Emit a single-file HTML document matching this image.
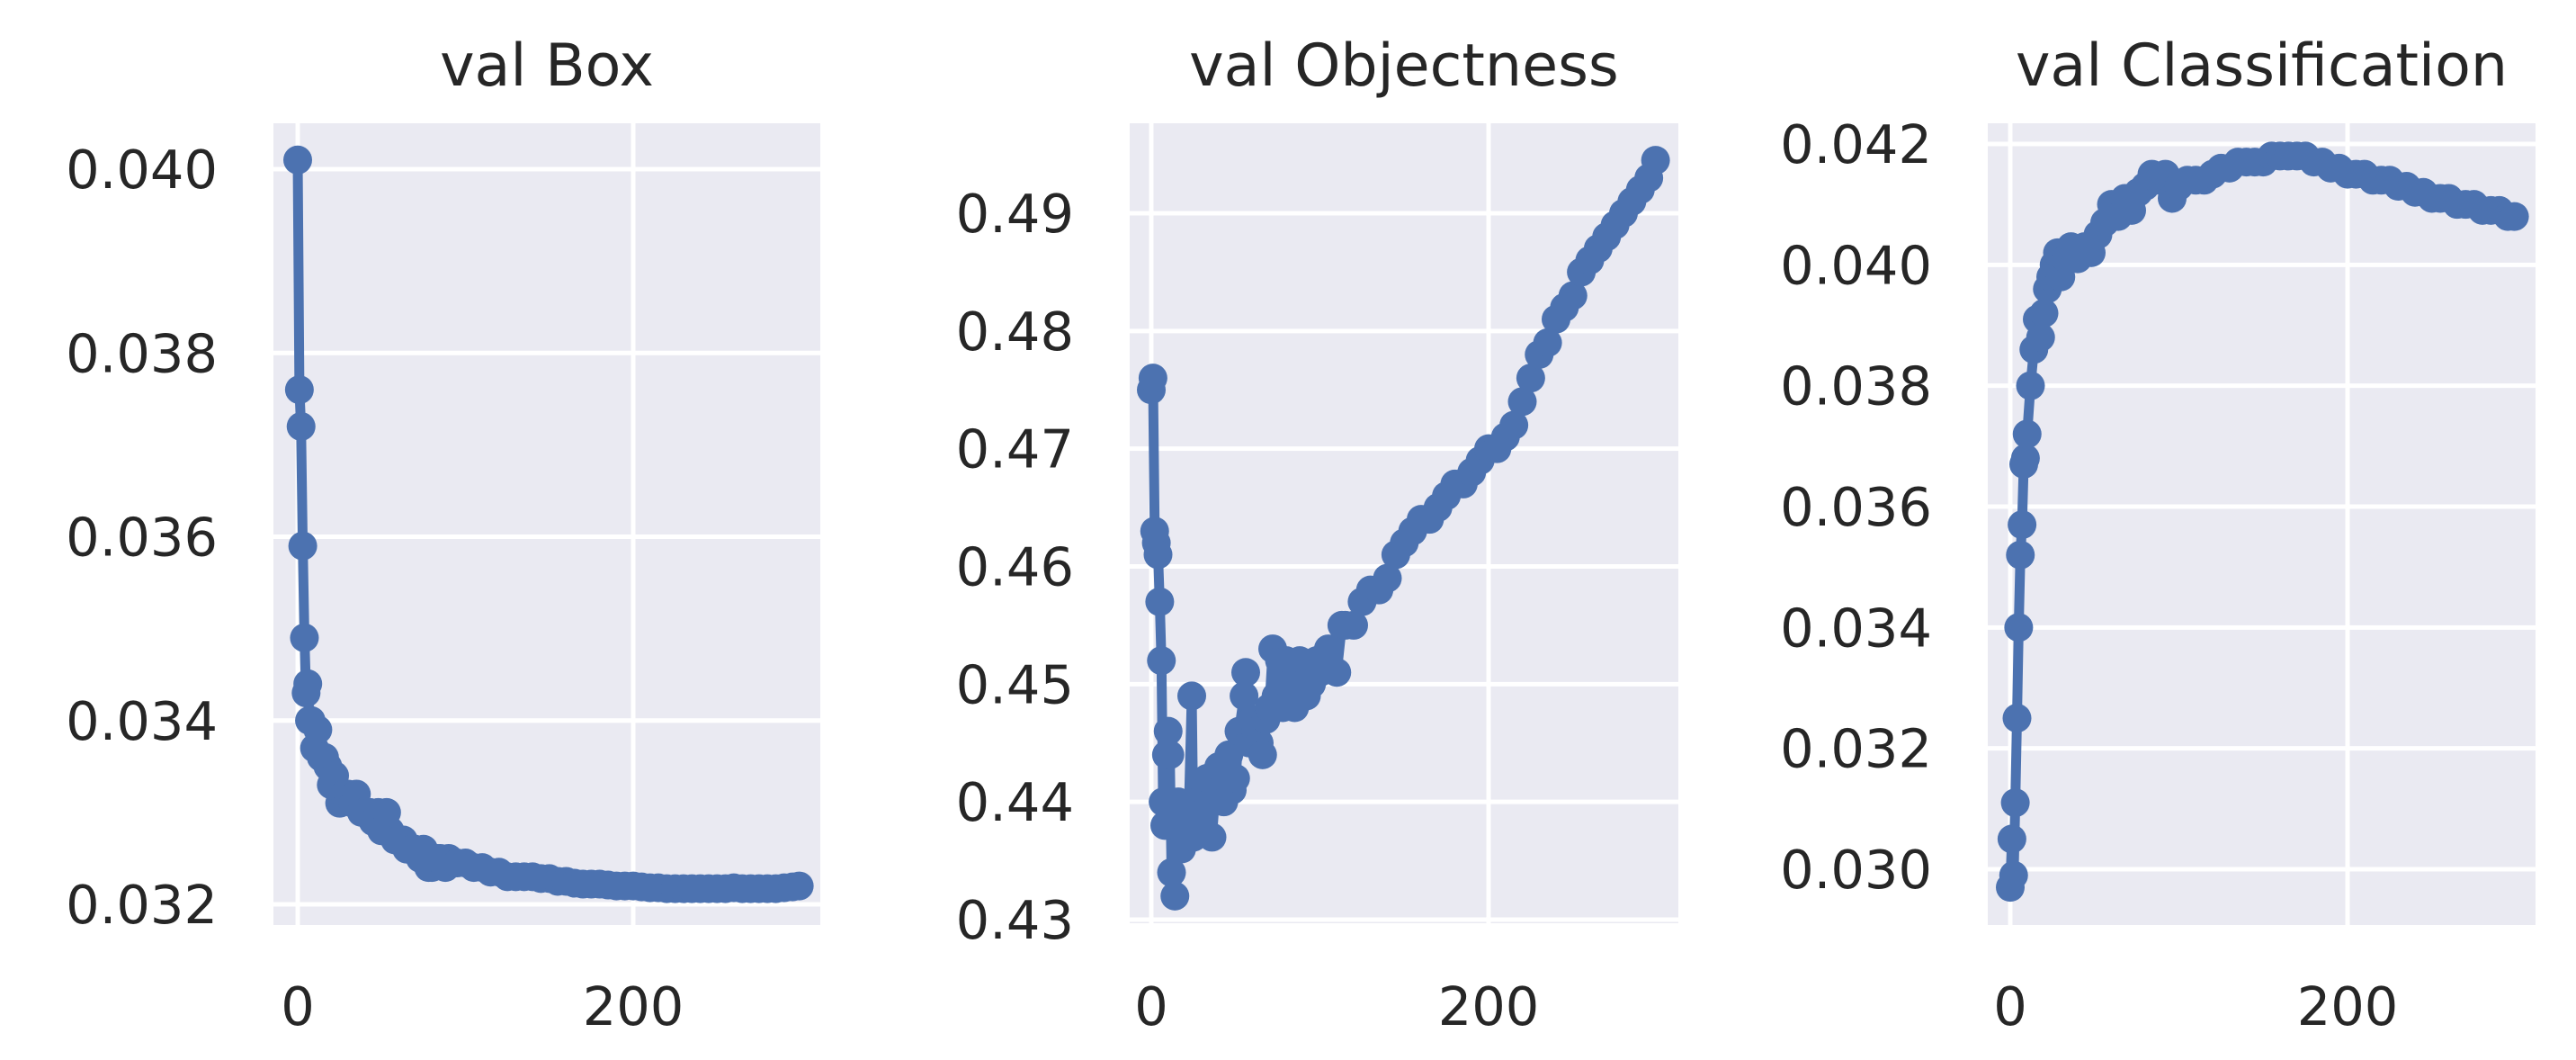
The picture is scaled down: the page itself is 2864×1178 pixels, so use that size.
<!DOCTYPE html>
<html><head><meta charset="utf-8">
<style>
html,body{margin:0;padding:0;background:#fff;}
svg{display:block;font-family:"DejaVu Sans","Liberation Sans",sans-serif;}
</style></head>
<body>
<svg id="fig" width="2864" height="1178" viewBox="0 0 2864 1178" xmlns="http://www.w3.org/2000/svg"></svg>
<script>
// ---- data ----
const boxEpochs=[0,1,2,3,4,5,6,7,8,10,12,14,16,18,20,22,25,28,30,33,35,38,40,43,45,48,50,53,55,58,60,63,65,68,70,73,75,78,80,83,85,88,90,95,100,105,110,115,120,125,130,135,140,145,150,155,160,165,170,175,180,185,190,195,200,205,210,215,220,225,230,235,240,245,250,255,260,265,270,275,280,285,290,295,299];
const boxValues=[0.0401,0.0376,0.0372,0.0359,0.0349,0.0343,0.0344,0.0340,0.0340,0.0337,0.0339,0.0336,0.0336,0.0335,0.0333,0.0334,0.0331,0.0332,0.0332,0.0331,0.0332,0.0330,0.0330,0.0330,0.0329,0.0330,0.0328,0.0330,0.0328,0.0327,0.0327,0.0327,0.0326,0.0326,0.0326,0.0325,0.0326,0.0324,0.0324,0.0325,0.0325,0.0324,0.0325,0.03245,0.03245,0.0324,0.0324,0.03235,0.03235,0.0323,0.0323,0.0323,0.0323,0.03228,0.03228,0.03225,0.03225,0.03223,0.03222,0.03222,0.03222,0.03221,0.0322,0.0322,0.0322,0.03219,0.03218,0.03218,0.03217,0.03217,0.03217,0.03217,0.03217,0.03217,0.03217,0.03217,0.03218,0.03217,0.03217,0.03217,0.03217,0.03217,0.03218,0.03219,0.0322];
const objEpochs=[0,1,2,3,4,5,6,7,8,9,10,11,12,13,14,15,16,18,20,22,24,25,27,30,33,36,38,40,43,46,48,50,52,55,56,58,60,62,64,66,68,70,72,74,76,78,80,82,85,88,90,92,95,98,100,105,110,113,115,120,125,130,135,140,145,150,155,160,165,170,175,180,185,190,195,200,205,210,215,220,225,230,235,240,245,250,255,260,265,270,275,280,285,290,295,299];
const objValues=[0.475,0.476,0.463,0.462,0.461,0.457,0.452,0.440,0.438,0.444,0.446,0.444,0.434,0.438,0.432,0.438,0.440,0.436,0.437,0.438,0.449,0.437,0.440,0.439,0.442,0.437,0.441,0.443,0.440,0.444,0.441,0.442,0.446,0.449,0.451,0.445,0.447,0.446,0.445,0.444,0.447,0.448,0.453,0.449,0.452,0.448,0.452,0.450,0.448,0.452,0.450,0.449,0.450,0.452,0.451,0.453,0.451,0.455,0.455,0.455,0.457,0.458,0.458,0.459,0.461,0.462,0.463,0.464,0.464,0.465,0.466,0.467,0.467,0.468,0.469,0.470,0.470,0.471,0.472,0.474,0.476,0.478,0.479,0.481,0.482,0.483,0.485,0.486,0.487,0.488,0.489,0.490,0.491,0.492,0.493,0.4945];
const clsEpochs=[0,1,2,3,4,5,6,7,8,9,10,12,14,16,18,20,22,24,26,28,30,33,36,40,44,48,52,56,60,64,68,72,76,80,84,88,92,96,100,105,110,115,120,125,130,135,140,145,150,155,160,165,170,175,180,185,190,195,200,205,210,215,220,225,230,235,240,245,250,255,260,265,270,275,280,285,290,295,299];
const clsValues=[0.0297,0.0305,0.0299,0.0311,0.0325,0.0340,0.0352,0.0357,0.0367,0.0368,0.0372,0.0380,0.0386,0.0391,0.0388,0.0392,0.0396,0.0398,0.0400,0.0402,0.0398,0.0401,0.0403,0.0401,0.0403,0.0402,0.0405,0.0407,0.0410,0.0408,0.0411,0.0409,0.0412,0.0413,0.0415,0.0414,0.0415,0.0411,0.0413,0.0414,0.0414,0.0414,0.0415,0.0416,0.0416,0.0417,0.0417,0.0417,0.0417,0.0418,0.0418,0.0418,0.0418,0.0418,0.0417,0.0417,0.0416,0.0416,0.0415,0.0415,0.0415,0.0414,0.0414,0.0414,0.0413,0.0413,0.0412,0.0412,0.0411,0.0411,0.0411,0.0410,0.0410,0.0410,0.0409,0.0409,0.0409,0.0408,0.0408];
const boxTicks=[0.032,0.034,0.036,0.038,0.040];
const boxTickLabels=["0.032","0.034","0.036","0.038","0.040"];
const objTicks=[0.43,0.44,0.45,0.46,0.47,0.48,0.49];
const objTickLabels=["0.43","0.44","0.45","0.46","0.47","0.48","0.49"];
const clsTicks=[0.030,0.032,0.034,0.036,0.038,0.040,0.042];
const clsTickLabels=["0.030","0.032","0.034","0.036","0.038","0.040","0.042"];
const xTicks=[0,200];
const xTickLabels=["0","200"];

const NS="http://www.w3.org/2000/svg";
const svg=document.getElementById('fig');
function mk(tag,attrs,parent){const e=document.createElementNS(NS,tag);for(const k in attrs)e.setAttribute(k,attrs[k]);(parent||svg).appendChild(e);return e;}

const panels=[
 {name:'box',title:'val Box',L:304,R:912,T:137,B:1028,x0:331,x200:704,yv1:0.032,yp1:1005,yv2:0.040,yp2:188,xs:boxEpochs,ys:boxValues,ticks:boxTicks,labels:boxTickLabels},
 {name:'objectness',title:'val Objectness',L:1256,R:1866,T:137,B:1026,x0:1280,x200:1655,yv1:0.43,yp1:1022,yv2:0.49,yp2:237,xs:objEpochs,ys:objValues,ticks:objTicks,labels:objTickLabels},
 {name:'classification',title:'val Classification',L:2210,R:2819,T:137,B:1028,x0:2235,x200:2610,yv1:0.030,yp1:966,yv2:0.042,yp2:160,xs:clsEpochs,ys:clsValues,ticks:clsTicks,labels:clsTickLabels}
];

panels.forEach(p=>{
  const xs=v=>p.x0+(p.x200-p.x0)*v/200;
  const ys=v=>p.yp1+(p.yp2-p.yp1)*(v-p.yv1)/(p.yv2-p.yv1);
  const g=mk('g',{});
  
  
  const bg=mk('rect',{x:p.L,y:p.T,width:p.R-p.L,height:p.B-p.T,fill:'#EAEAF2'},g);
  
  
  p.ticks.forEach((t,i)=>{
    const y=ys(t);
    const gl=mk('line',{x1:p.L,x2:p.R,y1:y,y2:y,stroke:'#fff','stroke-width':5},g);
    
    
    const tl=mk('text',{x:p.L-62,y:y+21,'text-anchor':'end','font-size':59,fill:'#262626'},g);
    tl.textContent=p.labels[i];
    
    
  });
  xTicks.forEach((t,i)=>{
    const x=xs(t);
    const gl=mk('line',{x1:x,x2:x,y1:p.T,y2:p.B,stroke:'#fff','stroke-width':5},g);
    
    
    const tl=mk('text',{x:x,y:1139,'text-anchor':'middle','font-size':59,fill:'#262626'},g);
    tl.textContent=xTickLabels[i];
    
    
  });
  const tt=mk('text',{x:(p.L+p.R)/2,y:95,'text-anchor':'middle','font-size':65,fill:'#262626'},g);
  tt.textContent=p.title;
  
  
  const pts=p.xs.map((x,i)=>xs(x).toFixed(1)+','+ys(p.ys[i]).toFixed(1)).join(' ');
  const line=mk('polyline',{points:pts,fill:'none',stroke:'#4C72B0','stroke-width':11,'stroke-linejoin':'round'},g);
  
  
  p.xs.forEach((x,i)=>{
    const c=mk('circle',{cx:xs(x),cy:ys(p.ys[i]),r:16,fill:'#4C72B0'},g);
    
    
  });
});
</script>
</body></html>
